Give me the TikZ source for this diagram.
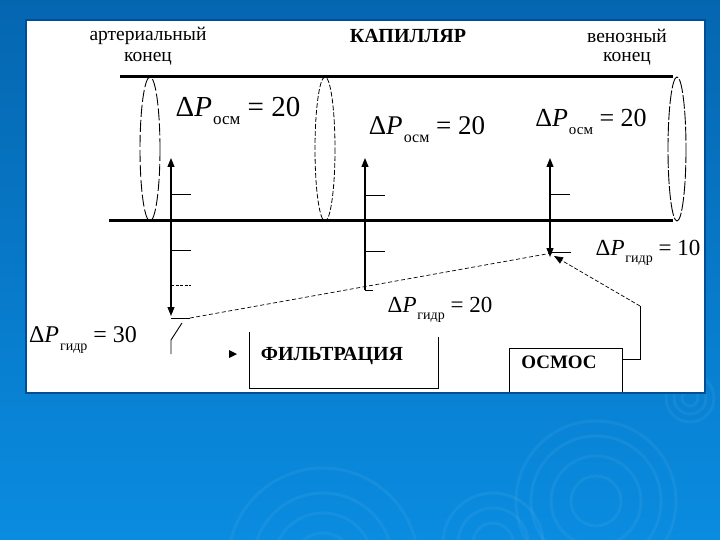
\documentclass[tikz,border=0pt]{standalone}
\usepackage{fontspec}
\setmainfont{Liberation Serif}
\usetikzlibrary{arrows.meta}
\newcommand\dpx[4]{\fontsize{#1}{#1}\selectfont Δ\textit{P}\kern0.04em\raisebox{-0.3em}{\fontsize{#2}{#2}\selectfont #3}\kern0.25em=\kern0.25em#4}
\definecolor{bgtop}{RGB}{5,102,176}
\definecolor{bgbot}{RGB}{10,140,224}
\definecolor{rim}{RGB}{0,78,150}
\begin{document}
\begin{tikzpicture}[x=1pt,y=-1pt,
  wall/.style={line width=3pt},
  vec/.style={line width=1.1pt},
  tick/.style={line width=0.9pt},
  tip/.style={-{Triangle[length=9pt,width=7pt]}},
  tips/.style={{Triangle[length=9pt,width=7pt]}-{Triangle[length=9pt,width=7pt]}},
  lbl/.style={inner sep=0pt,font=\fontsize{19.5}{19.5}\selectfont},
  bold/.style={inner sep=0pt,font=\fontsize{20}{20}\selectfont\bfseries},
  ripple/.style={draw=white,draw opacity=0.05,line width=3pt}]
\useasboundingbox (0,0) rectangle (720,540);
\clip (0,0) rectangle (720,540);
% background
\shade[top color=bgtop,bottom color=bgbot] (0,0) rectangle (720,540);
\foreach \r in {30,50,70,95} \draw[ripple] (323,563) circle (\r);
\foreach \r in {20,35,50} \draw[ripple] (493,543) circle (\r);
\foreach \r in {25,45,65,80} \draw[ripple] (596,501) circle (\r);
\foreach \r in {8,16,24} \draw[ripple] (690,398) circle (\r);
\fill[white] (26,20) rectangle (705,393);
\draw[rim,line width=1.2pt] (26,20) rectangle (705,393);
% headings
\node[lbl] (art) at (148,35.5) {артериальный};
\node[lbl] (artk) at (148,58.5) {конец};
\node[bold] (kap) at (408,36) {КАПИЛЛЯР};
\node[lbl] (ven) at (627,35.5) {венозный};
\node[lbl] (venk) at (627,58.5) {конец};
% capillary walls
\coordinate (wTL) at (120,77); \coordinate (wTR) at (673,77);
\coordinate (wBL) at (109,221); \coordinate (wBR) at (673,221);
\draw[wall] (wTL) -- (wTR);
\draw[wall] (wBL) -- (wBR);
% cross sections
\draw[line width=0.9pt,dash pattern=on 12pt off 3pt] (150,149) ellipse [x radius=10,y radius=72];
\draw[line width=0.8pt,dash pattern=on 5pt off 2pt] (325,149) ellipse [x radius=10,y radius=72];
\draw[line width=0.9pt,dash pattern=on 14pt off 2pt] (677,149) ellipse [x radius=9,y radius=72];
% pressure labels
\node[inner sep=0pt] (p1) at (238,111) {\dpx{29}{17}{осм}{20}};
\node[inner sep=0pt] (p2) at (427,130) {\dpx{27}{16}{осм}{20}};
\node[inner sep=0pt] (p3) at (591,122) {\dpx{26}{15}{осм}{20}};
\node[inner sep=0pt] (g10) at (648,253) {\dpx{23}{14}{гидр}{10}};
\node[inner sep=0pt] (g20) at (440,310) {\dpx{23}{14}{гидр}{20}};
\node[inner sep=0pt] (g30) at (83,340) {\dpx{24}{14}{гидр}{30}};
% left vector
\coordinate (aT) at (171,158); \coordinate (aB) at (171,316);
\draw[vec,tips] (aT) -- (aB);
\draw[tick] (171,194) -- (191,194);
\draw[tick] (171,250) -- (191,250);
\draw[tick,dash pattern=on 3pt off 1.5pt] (171,285) -- (191,285);
\coordinate (g1) at (190,318);
\draw[tick] (171,318) -- (g1);
\draw[tick] (182,323) -- (171,340) -- (171,354);
% middle vector
\coordinate (mT) at (365,158); \coordinate (mB) at (365,290);
\draw[vec,tip] (mB) -- (mT);
\draw[tick] (365,195) -- (385,195);
\draw[tick] (365,251) -- (385,251);
\draw[tick] (365,290) -- (373,290);
% right vector
\coordinate (rT) at (550,158); \coordinate (rB) at (550,257);
\draw[vec,tips] (rT) -- (rB);
\draw[tick] (550,194) -- (570,194);
\draw[tick] (550,252) -- (571,252);
% gradient line
\coordinate (g3) at (552,253);
\draw[line width=0.7pt,dash pattern=on 4pt off 2.5pt] (g3) -- (g1);
% filtration box
\node[inner sep=0pt,font=\fontsize{20}{20}\selectfont\bfseries] (filt) at (332,356) {ФИЛЬТРАЦИЯ};
\draw[line width=0.9pt] (249,332) |- (438,388) -- (438,337);
\node[inner sep=0pt] (ftip) at (233,354) {};
\fill (229,350) -- (237,354) -- (229,358) -- cycle;
% osmosis box
\node[inner sep=0pt,font=\fontsize{19}{19}\selectfont\bfseries] (osm) at (559,362) {ОСМОС};
\draw[line width=0.9pt] (509,392) |- (622,348) -- (622,392);
\coordinate (oR) at (622,359);
\coordinate (oC) at (640,306);
\coordinate (oT) at (554,256);
\draw[line width=0.9pt] (oR) -| (oC);
\draw[line width=0.7pt,dash pattern=on 4pt off 2pt,tip] (oC) -- (oT);
\end{tikzpicture}
\end{document}
